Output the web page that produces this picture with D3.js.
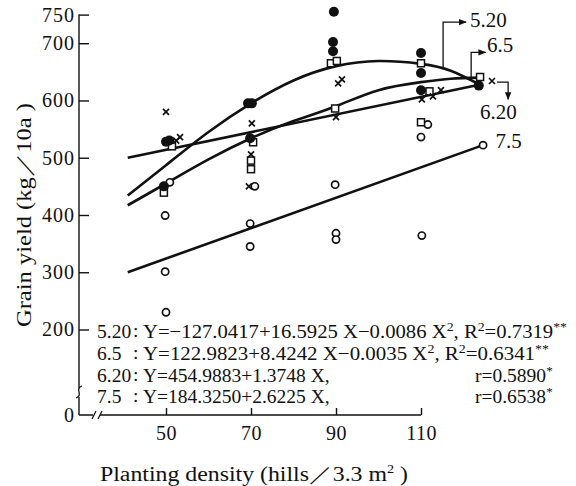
<!DOCTYPE html>
<html>
<head>
<meta charset="utf-8">
<script src="https://cdn.jsdelivr.net/npm/d3@7"></script>
<style>
  body { margin: 0; background: #fff; }
  text { font-family: "Liberation Serif", "Times New Roman", serif; fill: #111; }
</style>
</head>
<body>
<div id="chart"></div>
<script>
// axis ticks
const yTicks = [0, 200, 300, 400, 500, 600, 700, 750];
const xTicks = [50, 70, 90, 110];

const pts520 = [[50, 528], [50.8, 530], [49.5, 450], [69.3, 595], [70.2, 595], [69.8, 534],
  [89.5, 755], [89.3, 702], [89.3, 686], [110, 683], [110, 648], [110, 618], [123.6, 626]];
const pts65 = [[51.4, 520], [49.5, 439], [70.5, 527], [70, 495], [70, 480],
  [88.8, 665], [90.2, 669], [89.8, 586], [110, 665], [112, 616], [110, 562], [123.9, 641]];
const pts620 = [[50, 580], [52.4, 530], [53.3, 536], [70.2, 560], [70, 506], [69.5, 450],
  [90.5, 630], [91.4, 637], [90, 571], [110.2, 602], [112.8, 607], [114.7, 618], [126.7, 634]];
const pts75 = [[50.9, 457], [49.8, 399], [49.8, 301], [50, 230], [70.9, 450], [69.8, 385], [69.8, 345],
  [89.8, 453], [90, 368], [90, 357], [111.6, 558], [110, 536], [110.2, 364], [124.6, 522]];

// fitted curves
const fitX = [41, 50, 60, 70, 80, 90, 100, 110, 117, 124];
const fit520 = [434, 487, 545, 595, 635, 660, 669, 664, 652, 627];
const fit65 = [417, 455, 497, 534, 564, 590, 618, 632, 638, 640];
const line620 = [[41, 500], [124, 628]];
const line75 = [[41, 300], [124.6, 522]];

// regression equations
const eqLabels = ['5.20', '6.5', '6.20', '7.5'];
const eqBodies = [
  ['Y=−127.0417+16.5925 X−0.0086 X', '2', ', R', '2', '=0.7319', '**'],
  ['Y=122.9823+8.4242 X−0.0035 X', '2', ', R', '2', '=0.6341', '**'],
  ['Y=454.9883+1.3748 X,'],
  ['Y=184.3250+2.6225 X,']
];
const eqR = [null, null, ['r=0.5890', '*'], ['r=0.6538', '*']];

const width = 576, height = 486;

const svg = d3.select('#chart').append('svg')
  .attr('width', width)
  .attr('height', height);

const x = d3.scaleLinear().domain([50, 110]).range([166, 421]);
// broken axis: 0 sits just under 200
const y = d3.scaleLinear().domain([0, 200, 750]).range([415, 329.5, 14.6]);

svg.append('defs').append('marker')
  .attr('id', 'arr')
  .attr('viewBox', '0 0 10 10')
  .attr('refX', 9).attr('refY', 5)
  .attr('markerWidth', 8).attr('markerHeight', 8)
  .attr('markerUnits', 'userSpaceOnUse')
  .attr('orient', 'auto')
  .append('path').attr('d', 'M0,1L10,5L0,9Z').attr('fill', '#111');

// y axis
const ax0 = x.range()[0] - 87;
const yAxis = svg.append('g')
  .attr('transform', `translate(${ax0},0)`)
  .call(d3.axisLeft(y).tickValues(yTicks).tickSize(-10).tickSizeOuter(0).tickPadding(4).tickFormat(d3.format('d')));
yAxis.select('.domain').remove();
yAxis.selectAll('.tick line').attr('stroke', '#111').attr('stroke-width', 1.4);
yAxis.selectAll('.tick text').attr('font-size', 20).attr('letter-spacing', 1).attr('fill', '#111')
  .attr('font-family', '"Liberation Serif", serif');
yAxis.selectAll('.tick').filter(d => d === 0).select('line').remove();

svg.append('line').attr('x1', ax0).attr('x2', ax0).attr('y1', y(750)).attr('y2', y(0))
  .attr('stroke', '#111').attr('stroke-width', 1.4);
// axis break on y
svg.append('rect').attr('x', ax0 - 4).attr('y', 388).attr('width', 8).attr('height', 9).attr('fill', '#fff');
svg.append('path').attr('d', `M${ax0 + 3},386 C${ax0 - 5},389 ${ax0 + 5},395 ${ax0 - 3},398`)
  .attr('fill', 'none').attr('stroke', '#111').attr('stroke-width', 1.3);

// x axis
const xAxis = svg.append('g')
  .attr('transform', `translate(0,${y(0)})`)
  .call(d3.axisBottom(x).tickValues(xTicks).tickSize(-7).tickSizeOuter(0).tickPadding(11));
xAxis.select('.domain').remove();
xAxis.selectAll('.tick line').attr('stroke', '#111').attr('stroke-width', 1.4);
xAxis.selectAll('.tick text').attr('font-size', 20).attr('letter-spacing', 0.5).attr('fill', '#111')
  .attr('font-family', '"Liberation Serif", serif');
svg.append('line').attr('x1', ax0).attr('x2', x(110)).attr('y1', y(0)).attr('y2', y(0))
  .attr('stroke', '#111').attr('stroke-width', 1.4);
// axis break on x
svg.append('rect').attr('x', 93).attr('y', y(0) - 4).attr('width', 7).attr('height', 8).attr('fill', '#fff');
[92, 98].forEach(bx => {
  svg.append('line').attr('x1', bx).attr('y1', y(0) + 4).attr('x2', bx + 4).attr('y2', y(0) - 4)
    .attr('stroke', '#111').attr('stroke-width', 1.2);
});

// axis titles
svg.append('text')
  .attr('transform', `translate(31,215) rotate(-90)`)
  .attr('text-anchor', 'middle')
  .attr('font-size', 20)
  .attr('textLength', 224).attr('lengthAdjust', 'spacingAndGlyphs')
  .text('Grain yield (kg／10a )');

svg.append('text')
  .attr('x', 254).attr('y', 481)
  .attr('text-anchor', 'middle')
  .attr('font-size', 20)
  .attr('textLength', 308).attr('lengthAdjust', 'spacingAndGlyphs')
  .html('Planting density (hills／3.3 m<tspan dy="-8" font-size="12">2</tspan><tspan dy="8"> )</tspan>');

// fitted curves
const curve = d3.line().x(d => x(d[0])).y(d => y(d[1])).curve(d3.curveNatural);
const lineGen = d3.line().x(d => x(d[0])).y(d => y(d[1]));
const curves = svg.append('g').attr('fill', 'none').attr('stroke', '#111').attr('stroke-width', 2.6);
curves.append('path').attr('d', curve(d3.zip(fitX, fit520)));
curves.append('path').attr('d', curve(d3.zip(fitX, fit65)));
curves.append('path').attr('d', lineGen(line620));
curves.append('path').attr('d', lineGen(line75));

// observed points
const g = svg.append('g');
g.selectAll('.c75').data(pts75).enter().append('circle')
  .attr('cx', d => x(d[0])).attr('cy', d => y(d[1])).attr('r', 3.6)
  .attr('fill', '#fff').attr('stroke', '#111').attr('stroke-width', 1.7);
g.selectAll('.s65').data(pts65).enter().append('rect')
  .attr('x', d => x(d[0]) - 3.5).attr('y', d => y(d[1]) - 3.5).attr('width', 7).attr('height', 7)
  .attr('fill', '#fff').attr('stroke', '#111').attr('stroke-width', 1.5);
g.selectAll('.x620').data(pts620).enter().append('path')
  .attr('transform', d => `translate(${x(d[0])},${y(d[1])})`)
  .attr('d', 'M-3,-3L3,3M-3,3L3,-3')
  .attr('stroke', '#111').attr('stroke-width', 1.7);
g.selectAll('.d520').data(pts520).enter().append('circle')
  .attr('cx', d => x(d[0])).attr('cy', d => y(d[1])).attr('r', 5)
  .attr('fill', '#111');

// curve labels with leaders
const ann = svg.append('g').attr('fill', 'none').attr('stroke', '#111').attr('stroke-width', 1.3);
ann.append('path').attr('d', `M${x(115.2)},${y(656)}V${y(737)}H${x(120.6)}`).attr('marker-end', 'url(#arr)');
ann.append('path').attr('d', `M${x(121.8)},${y(639)}V${y(684)}H${x(125.2)}`).attr('marker-end', 'url(#arr)');
ann.append('path').attr('d', `M${x(127.9)},${y(632)}H${x(130.5)}V${y(602)}`).attr('marker-end', 'url(#arr)');

const lab = svg.append('g').attr('font-size', 21);
lab.append('text').attr('x', x(121.5)).attr('y', y(728)).text('5.20');
lab.append('text').attr('x', x(125.5)).attr('y', y(684)).text('6.5');
lab.append('text').attr('x', x(128.2)).attr('y', 119).attr('text-anchor', 'middle').text('6.20');
lab.append('text').attr('x', x(127.5)).attr('y', y(522) + 3).text('7.5');

// equations
const eqBase = [338, 360, 382, 403];
const eqFull = [422, 404];
eqLabels.forEach((l, i) => {
  const t = svg.append('g').attr('font-size', 19.5);
  t.append('text').attr('x', 97).attr('y', eqBase[i]).text(l);
  t.append('text').attr('x', 133).attr('y', eqBase[i] - 1).text(':');
  const body = t.append('text').attr('x', 143).attr('y', eqBase[i]);
  eqBodies[i].forEach((s, j) => {
    const sup = (s === '2' || s === '**');
    body.append('tspan')
      .attr('dy', sup ? -7 : (j > 0 && (eqBodies[i][j - 1] === '2' || eqBodies[i][j - 1] === '**') ? 7 : 0))
      .attr('font-size', sup ? 13 : null)
      .text(s);
  });
  if (eqFull[i]) body.attr('textLength', eqFull[i] + 2).attr('lengthAdjust', 'spacingAndGlyphs');
  if (eqR[i]) {
    const r = t.append('text').attr('x', 475).attr('y', eqBase[i]);
    r.append('tspan').text(eqR[i][0]);
    r.append('tspan').attr('dy', -7).attr('font-size', 13).text(eqR[i][1]);
  }
});
</script>
</body>
</html>
